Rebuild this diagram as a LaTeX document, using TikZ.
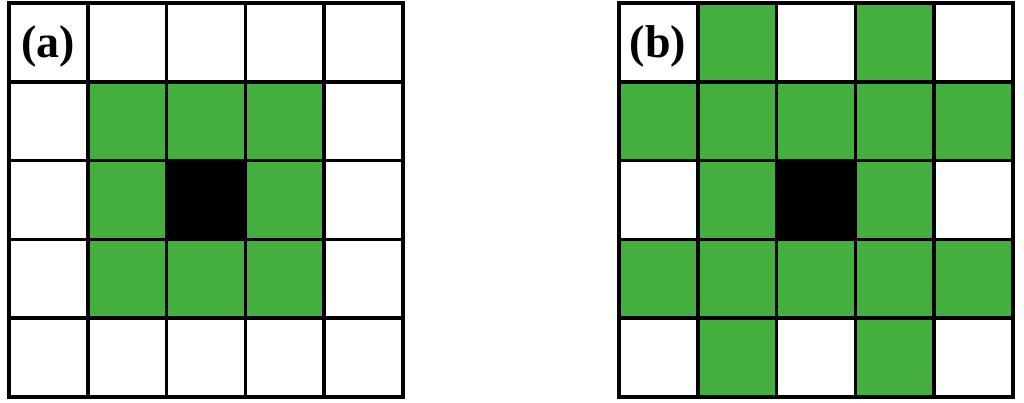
\documentclass[tikz,border=0pt]{standalone}
\usepackage{fontspec}
\setmainfont{Liberation Serif}
\definecolor{cellgreen}{RGB}{68,175,62}
\begin{document}
\begin{tikzpicture}[x=1pt,y=-1pt,
  gridline/.style={line width=3.5pt,black,line cap=rect},
  gcell/.style={fill=cellgreen},
  bcell/.style={fill=black},
  lab/.style={font=\fontsize{46}{55}\selectfont\bfseries,inner sep=0pt}]
\useasboundingbox (0,0) rectangle (1024,403);
\def\cs{78.8}
% grid (a)
\begin{scope}[shift={(9,3)}]
  \foreach \i/\j in {1/1,2/1,3/1,1/2,3/2,1/3,2/3,3/3}
    \fill[gcell] (\i*\cs,\j*\cs) rectangle ++(\cs,\cs);
  \fill[bcell] (2*\cs,2*\cs) rectangle ++(\cs,\cs);
  \foreach \k in {0,...,5} {
    \draw[gridline] (\k*\cs,0) -- (\k*\cs,5*\cs);
    \draw[gridline] (0,\k*\cs) -- (5*\cs,\k*\cs);
  }
\end{scope}
% grid (b)
\begin{scope}[shift={(619,3)}]
  \foreach \i/\j in {1/0,3/0,0/1,1/1,2/1,3/1,4/1,1/2,3/2,0/3,1/3,2/3,3/3,4/3,1/4,3/4}
    \fill[gcell] (\i*\cs,\j*\cs) rectangle ++(\cs,\cs);
  \fill[bcell] (2*\cs,2*\cs) rectangle ++(\cs,\cs);
  \foreach \k in {0,...,5} {
    \draw[gridline] (\k*\cs,0) -- (\k*\cs,5*\cs);
    \draw[gridline] (0,\k*\cs) -- (5*\cs,\k*\cs);
  }
\end{scope}
\node[lab] (la) at (48,46) {(a)};
\node[lab] (lb) at (658,46) {(b)};
\end{tikzpicture}
\end{document}
